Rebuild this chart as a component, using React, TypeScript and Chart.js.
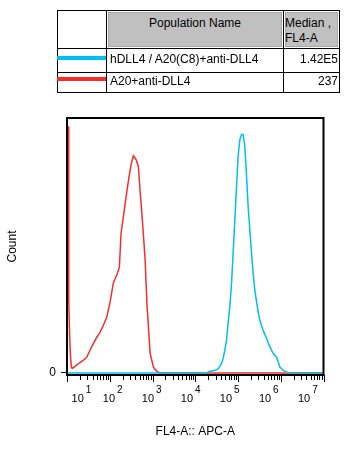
import React, { useEffect, useRef } from 'react';
import { Chart, registerables } from 'chart.js';
Chart.register(...registerables);

const FONT = 'Arial, "Liberation Sans", sans-serif';

// Blue population: hDLL4 / A20(C8)+anti-DLL4
const BLUE_X = [10, 18300, 21900, 28600, 34200, 41100, 44800, 49100, 53800, 58600, 64300, 70500, 76900, 84300, 92300, 100700, 110400, 121100, 131800, 144500, 158500, 172600, 189200, 207500, 225900, 247700, 271600, 296500, 324300, 388200, 465600, 557200, 665300, 799800, 871000, 955000, 1140000, 1496000, 10000000];
const BLUE_Y = [0, 0, 0.7, 1.0, 1.6, 3.6, 5.6, 8.9, 12.8, 19.4, 25.9, 35.1, 46.9, 60, 73.1, 85, 91.5, 93.5, 93.5, 88.9, 77.1, 65.3, 56.1, 46.9, 39.1, 32.5, 27.9, 23.9, 20.7, 16.7, 13.5, 10.2, 7.6, 6.2, 4.3, 2.3, 1.0, 0.1, 0];

// Red population: A20+anti-DLL4
const RED_X = [10.73, 10.9, 11.1, 11.5, 12.1, 12.7, 13.2, 15.4, 20.1, 24.0, 29.0, 34.6, 41.4, 49.6, 59.4, 70.9, 85.2, 101.7, 121, 146, 168, 184, 208, 251, 283, 316, 357, 414, 468, 514, 563, 613, 673, 737, 804, 880, 965, 1054, 1263, 1512, 10000000];
const RED_Y = [96.8, 62, 27.8, 15.5, 6, 2.2, 1.8, 2.6, 4.1, 4.9, 6.2, 8.9, 11.6, 14, 15.9, 18.7, 21.9, 27.8, 35.2, 38.4, 41.5, 54.9, 61.2, 71.1, 77, 81.7, 85.2, 83.7, 80.9, 71.1, 62.8, 54.1, 44.3, 27.8, 17.9, 7.7, 4.9, 2.2, 0.6, 0, 0];

const X_MIN = 10;
const X_MAX = 10000000;
const Y_MIN = -0.8;
const Y_MAX = 100;
const TICK_DECADES = [1, 2, 3, 4, 5, 6];
const TICK_MULTIPLES = [1, 2, 3, 4, 5, 6, 7, 8, 9];
const LABEL_EXPONENTS = [1, 2, 3, 4, 5, 6, 7];
const LABEL_SLOTS = [1.2, 2, 3, 4, 5, 6, 7];
const LABEL_AXIS_MIN = 0.926;
const LABEL_AXIS_MAX = 7.499;

const POPULATIONS = ['hDLL4 / A20(C8)+anti-DLL4', 'A20+anti-DLL4'];
const MEDIANS = ['1.42E5', '237'];
const COLORS = ['rgb(0,190,240)', 'rgb(245,45,45)'];

const framePlugin = {
  id: 'frame',
  afterDatasetsDraw(chart: any) {
    const { ctx, chartArea: a, scales } = chart;
    ctx.save();
    ctx.strokeStyle = '#000';
    ctx.lineWidth = 2;
    ctx.strokeRect(a.left, a.top, a.right - a.left, a.bottom - a.top);
    const x = scales.x;
    ctx.lineWidth = 1;
    ctx.beginPath();
    for (const t of x.ticks) {
      const px = Math.round(x.getPixelForValue(t.value)) + 0.5;
      const lg = Math.log10(t.value);
      const major = Math.abs(lg - Math.round(lg)) < 1e-9;
      ctx.moveTo(px, a.bottom);
      ctx.lineTo(px, a.bottom + (major ? 7 : 5));
    }
    ctx.stroke();
    const xl = scales.xl;
    ctx.fillStyle = '#000';
    ctx.textBaseline = 'alphabetic';
    LABEL_SLOTS.forEach((slot, i) => {
      const cx = xl.getPixelForValue(slot);
      ctx.font = `11px ${FONT}`;
      ctx.textAlign = 'center';
      ctx.fillText('10', cx, a.bottom + 27);
      const w = ctx.measureText('10').width;
      ctx.font = `10px ${FONT}`;
      ctx.textAlign = 'left';
      ctx.fillText(String(LABEL_EXPONENTS[i]), cx + w / 2 + 2, a.bottom + 18);
    });
    ctx.restore();
  },
};

function HistChart() {
  const ref = useRef<HTMLCanvasElement>(null);
  useEffect(() => {
    const chart = new Chart(ref.current as HTMLCanvasElement, {
      type: 'line',
      data: {
        datasets: [
          {
            label: POPULATIONS[0],
            data: BLUE_X.map((x, i) => ({ x, y: BLUE_Y[i] })),
            borderColor: COLORS[0],
            borderWidth: 1.5,
            pointRadius: 0,
            tension: 0,
            fill: false,
          },
          {
            label: POPULATIONS[1],
            data: RED_X.map((x, i) => ({ x, y: RED_Y[i] })),
            borderColor: COLORS[1],
            borderWidth: 1.5,
            pointRadius: 0,
            tension: 0,
            fill: false,
          },
        ],
      },
      options: {
        responsive: false,
        animation: false,
        layout: { padding: { left: 0, top: 118, right: 29.5, bottom: 0 } },
        plugins: { legend: { display: false }, tooltip: { enabled: false } },
        scales: {
          x: {
            type: 'logarithmic',
            position: 'bottom',
            min: X_MIN,
            max: X_MAX,
            afterBuildTicks: (s: any) => {
              const ticks: any[] = [];
              TICK_DECADES.forEach((d) => TICK_MULTIPLES.forEach((m) => ticks.push({ value: m * Math.pow(10, d) })));
              ticks.push({ value: X_MAX });
              s.ticks = ticks;
            },
            afterFit: (s: any) => {
              s.height = 78;
            },
            grid: { display: false, drawOnChartArea: false, drawTicks: false },
            border: { display: false },
            ticks: { display: false },
            title: {
              display: true,
              text: 'FL4-A:: APC-A',
              color: '#000',
              font: { family: FONT, size: 12 },
              padding: { top: 0, bottom: 14 },
            },
          },
          xl: {
            type: 'linear',
            position: 'bottom',
            display: false,
            min: LABEL_AXIS_MIN,
            max: LABEL_AXIS_MAX,
          },
          y: {
            type: 'linear',
            position: 'left',
            min: Y_MIN,
            max: Y_MAX,
            afterBuildTicks: (s: any) => {
              s.ticks = [{ value: 0 }];
            },
            afterFit: (s: any) => {
              s.width = 67;
            },
            grid: { drawOnChartArea: false, drawTicks: true, tickLength: 6, color: '#000' },
            border: { display: false },
            ticks: {
              color: '#000',
              font: { family: FONT, size: 12 },
              padding: 5,
              callback: (v: any) => String(v),
            },
            title: {
              display: true,
              text: 'Count',
              color: '#000',
              font: { family: FONT, size: 12 },
              padding: { top: 5, bottom: 0 },
            },
          },
        },
      } as any,
      plugins: [framePlugin],
    });
    return () => chart.destroy();
  }, []);
  return (
    <canvas
      ref={ref}
      width={353}
      height={453}
      style={{ position: 'absolute', left: 0, top: 0, width: 353, height: 453, display: 'block' }}
    />
  );
}

const cellBase: React.CSSProperties = {
  position: 'absolute',
  boxSizing: 'border-box',
  border: '1px solid #000',
  fontFamily: FONT,
  fontSize: 12,
  lineHeight: '15px',
  color: '#000',
  whiteSpace: 'nowrap',
  overflow: 'hidden',
};

function Cell(props: { x0: number; x1: number; y0: number; y1: number; style?: React.CSSProperties; children?: any }) {
  const { x0, x1, y0, y1, style, children } = props;
  return (
    <div style={{ ...cellBase, left: x0, top: y0, width: x1 - x0 + 1, height: y1 - y0 + 1, ...style }}>{children}</div>
  );
}

const gray: React.CSSProperties = {
  background: '#c0c0c0',
  boxShadow: 'inset 0 0 0 1px #fff, inset 0 0 0 2px #a8a8a8',
};

function LegendTable() {
  const colX = [57, 106, 283, 339];
  const rowY = [10, 48, 72, 92];
  const linePos = [{ top: 56 }, { top: 77 }];
  const textPad = [3, 1];
  return (
    <div>
      <Cell x0={colX[0]} x1={colX[1]} y0={rowY[0]} y1={rowY[1]} />
      <Cell x0={colX[1]} x1={colX[2]} y0={rowY[0]} y1={rowY[1]} style={{ ...gray, textAlign: 'center', paddingTop: 5 }}>
        Population Name
      </Cell>
      <Cell x0={colX[2]} x1={colX[3]} y0={rowY[0]} y1={rowY[1]} style={{ ...gray, paddingTop: 5, paddingLeft: 1 }}>
        Median ,<br />FL4-A
      </Cell>
      {POPULATIONS.map((p, i) => (
        <React.Fragment key={p}>
          <Cell x0={colX[0]} x1={colX[1]} y0={rowY[i + 1]} y1={rowY[i + 2]} />
          <Cell x0={colX[1]} x1={colX[2]} y0={rowY[i + 1]} y1={rowY[i + 2]} style={{ paddingLeft: 3, paddingTop: textPad[i] }}>
            {p}
          </Cell>
          <Cell x0={colX[2]} x1={colX[3]} y0={rowY[i + 1]} y1={rowY[i + 2]} style={{ textAlign: 'right', paddingRight: 1, paddingTop: textPad[i] }}>
            {MEDIANS[i]}
          </Cell>
          <div
            style={{
              position: 'absolute',
              left: colX[0],
              top: linePos[i].top,
              width: colX[1] - colX[0],
              height: 4,
              background: COLORS[i],
            }}
          />
        </React.Fragment>
      ))}
    </div>
  );
}

export default function App() {
  return (
    <div style={{ position: 'absolute', left: 0, top: 0, width: 353, height: 453, background: '#fff', overflow: 'hidden' }}>
      <HistChart />
      <LegendTable />
    </div>
  );
}
